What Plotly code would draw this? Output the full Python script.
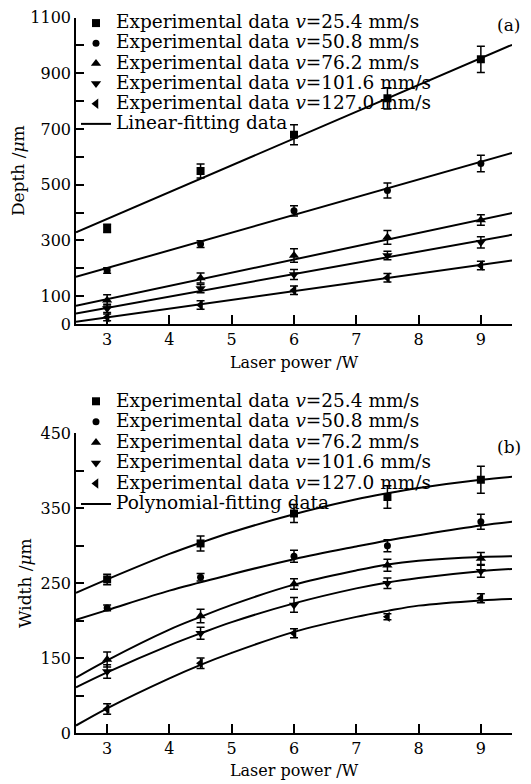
import plotly.graph_objects as go

# ---------------- data ----------------
power = [3, 4.5, 6, 7.5, 9]
speeds = ["25.4", "50.8", "76.2", "101.6", "127.0"]
symbols = ["square", "circle", "triangle-up", "triangle-down", "triangle-left"]
msizes = [8, 7, 9, 9, 9]

# (a) depth (um)
depth_25 = [343, 549, 679, 810, 950]
depth_50 = [192, 287, 406, 479, 576]
depth_76 = [85, 165, 246, 311, 373]
depth_101 = [56, 127, 178, 246, 293]
depth_127 = [24, 68, 121, 166, 210]
depth_err_25 = [15, 25, 36, 38, 47]
depth_err_50 = [10, 12, 18, 27, 30]
depth_err_76 = [20, 18, 24, 25, 19]
depth_err_101 = [15, 15, 18, 15, 20]
depth_err_127 = [12, 15, 15, 15, 15]

lin_x = [2.5, 9.5]
lin_25 = [329, 1002]
lin_50 = [169, 614]
lin_76 = [65, 398]
lin_101 = [38, 320]
lin_127 = [8, 228]

# (b) width (axis units as drawn)
width_25 = [255, 303, 343, 365, 388]
width_50 = [217, 258, 286, 300, 332]
width_76 = [148, 206, 249, 274, 283]
width_101 = [132, 183, 221, 250, 266]
width_127 = [82, 143, 183, 205, 230]
width_err_25 = [7, 10, 12, 15, 18]
width_err_50 = [4, 5, 8, 8, 10]
width_err_76 = [10, 9, 7, 8, 8]
width_err_101 = [9, 8, 10, 7, 8]
width_err_127 = [7, 7, 6, 4, 6]

poly_x = [2.5, 3, 4, 4.5, 5, 6, 7, 7.5, 8, 9, 9.5]
poly_25 = [237, 255, 289, 304, 318, 342, 362, 370, 377, 388, 392]
poly_50 = [201, 214, 240, 251, 262, 282, 299, 307, 314, 327, 332]
poly_76 = [124, 147, 188, 205, 221, 248, 267, 275, 280, 285, 286]
poly_101 = [111, 131, 167, 183, 198, 223, 243, 251, 257, 266, 269]
poly_127 = [60, 83, 123, 141, 157, 185, 205, 213, 220, 227, 229]

depth_ticks = [0, 100, 300, 500, 700, 900, 1100]
depth_minor = [200, 400, 600, 800, 1000]
width_tickvals = [50, 150, 250, 350, 450]
width_ticktext = ["0", "150", "250", "350", "450"]
width_minor = [100, 200, 300, 400]
x_ticks = [3, 4, 5, 6, 7, 8, 9]

# ---------------- figure ----------------
FONT = "DejaVu Serif"
OFF = 8                      # page body margin
W, H = 531 - OFF, 784 - OFF
ML, MR, MT, MB = 68, 19, 7, 51
PH = H - MT - MB

def py(ys):
    """screen y (px) -> paper y"""
    return (H - MB - (ys - OFF)) / PH

fig = go.Figure()

depth_sets = [depth_25, depth_50, depth_76, depth_101, depth_127]
depth_errs = [depth_err_25, depth_err_50, depth_err_76, depth_err_101, depth_err_127]
lin_sets = [lin_25, lin_50, lin_76, lin_101, lin_127]
width_sets = [width_25, width_50, width_76, width_101, width_127]
width_errs = [width_err_25, width_err_50, width_err_76, width_err_101, width_err_127]
poly_sets = [poly_25, poly_50, poly_76, poly_101, poly_127]

LSZ = 18.5

def label(s):
    return '<span style="font-size:%spx">Experimental data <i>v</i>=%s mm/s</span>' % (LSZ, s)

# panel (a)
for i in range(5):
    fig.add_trace(go.Scatter(
        x=power, y=depth_sets[i], mode="markers", name=label(speeds[i]),
        marker=dict(symbol=symbols[i], size=msizes[i], color="black"),
        error_y=dict(type="data", array=depth_errs[i], color="black", thickness=1.5, width=4),
        xaxis="x", yaxis="y", legend="legend"))
for i in range(5):
    fig.add_trace(go.Scatter(
        x=lin_x, y=lin_sets[i], mode="lines",
        name='<span style="font-size:%spx">Linear-fitting data</span>' % LSZ,
        line=dict(color="black", width=2), showlegend=(i == 0),
        xaxis="x", yaxis="y", legend="legend"))

# panel (b)
for i in range(5):
    fig.add_trace(go.Scatter(
        x=power, y=width_sets[i], mode="markers", name=label(speeds[i]),
        marker=dict(symbol=symbols[i], size=msizes[i], color="black"),
        error_y=dict(type="data", array=width_errs[i], color="black", thickness=1.5, width=4),
        xaxis="x2", yaxis="y2", legend="legend2"))
for i in range(5):
    fig.add_trace(go.Scatter(
        x=poly_x, y=poly_sets[i], mode="lines", line_shape="spline",
        name='<span style="font-size:%spx">Polynomial-fitting data</span>' % LSZ,
        line=dict(color="black", width=2), showlegend=(i == 0),
        xaxis="x2", yaxis="y2", legend="legend2"))

axis_common = dict(showline=True, linecolor="black", linewidth=1.5, ticks="inside",
                   tickcolor="black", tickwidth=1.5, showgrid=False, automargin=False,
                   zeroline=False, ticklabeloverflow="allow",
                   tickfont=dict(family=FONT, size=16, color="black"))

XFS, YFS = 16, 17
depth_top = 17.5
depth_bot = 324
width_top = 433.3

fig.update_layout(
    width=W, height=H,
    margin=dict(l=ML, r=MR, t=MT, b=MB, autoexpand=False),
    paper_bgcolor="white", plot_bgcolor="white",
    font=dict(family=FONT, color="black"),
    xaxis=dict(domain=[0, 1], anchor="y", range=[2.5, 9.5], tickvals=x_ticks, ticklen=9,
               title=dict(text="Laser power /W", font=dict(family=FONT, size=XFS), standoff=9),
               **axis_common),
    yaxis=dict(domain=[py(depth_bot), py(depth_top)], anchor="x", range=[0, 1100],
               tickvals=depth_ticks, ticklen=8,
               minor=dict(tickvals=depth_minor, ticks="inside", ticklen=8, tickwidth=1.5, tickcolor="black"),
               title=dict(text="Depth /<i>μ</i>m", font=dict(family=FONT, size=YFS), standoff=5),
               **axis_common),
    xaxis2=dict(domain=[0, 1], anchor="y2", range=[2.5, 9.5], tickvals=x_ticks, ticklen=9,
                title=dict(text="Laser power /W", font=dict(family=FONT, size=XFS), standoff=8),
                **axis_common),
    yaxis2=dict(domain=[0, py(width_top)], anchor="x2", range=[50, 450],
                tickvals=width_tickvals, ticktext=width_ticktext, ticklen=8,
                minor=dict(tickvals=width_minor, ticks="inside", ticklen=8, tickwidth=1.5, tickcolor="black"),
                title=dict(text="Width /<i>μ</i>m", font=dict(family=FONT, size=YFS), standoff=5),
                **axis_common),
    legend=dict(x=0, xanchor="left", y=py(8), yanchor="top", bgcolor="rgba(0,0,0,0)",
                font=dict(family=FONT, size=13.2, color="black"), itemwidth=30,
                traceorder="normal"),
    legend2=dict(x=0, xanchor="left", y=py(386), yanchor="top", bgcolor="rgba(0,0,0,0)",
                 font=dict(family=FONT, size=13.5, color="black"), itemwidth=30,
                 traceorder="normal"),
    annotations=[
        dict(text="(a)", x=(508.5 - OFF - ML) / (W - ML - MR), y=py(25), xref="paper", yref="paper",
             xanchor="center", yanchor="middle", showarrow=False,
             font=dict(family=FONT, size=17, color="black")),
        dict(text="(b)", x=(508.5 - OFF - ML) / (W - ML - MR), y=py(447), xref="paper", yref="paper",
             xanchor="center", yanchor="middle", showarrow=False,
             font=dict(family=FONT, size=17, color="black")),
    ],
)

fig.write_html("out.html")
